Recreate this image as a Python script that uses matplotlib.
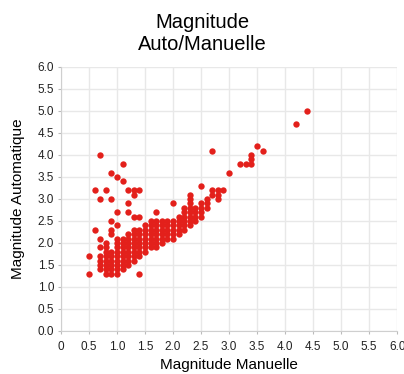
import numpy as np
import matplotlib.pyplot as plt

plt.rcParams['font.family'] = ['Liberation Sans', 'DejaVu Sans']

# dense block: each column of magnitudes (manual x) filled from low to high (auto y)
col_x = [0.7, 0.8, 0.9, 1.0, 1.1, 1.2, 1.3, 1.4, 1.5, 1.6, 1.7, 1.8, 1.9, 2.0, 2.1, 2.2, 2.3, 2.4, 2.5, 2.6]
col_low = [1.4, 1.3, 1.3, 1.3, 1.4, 1.5, 1.6, 1.7, 1.8, 1.9, 1.9, 2.0, 2.1, 2.1, 2.2, 2.3, 2.4, 2.5, 2.6, 2.8]
col_high = [1.7, 2.0, 1.8, 2.1, 2.1, 2.2, 2.3, 2.3, 2.4, 2.5, 2.5, 2.5, 2.5, 2.5, 2.6, 2.7, 2.8, 2.8, 2.9, 3.0]

# isolated points
out_x = [0.5, 0.5, 0.6, 0.7, 0.7, 0.9, 0.9, 0.9, 1.0, 1.0, 1.2, 1.3, 1.4, 1.7, 1.4,
         1.2, 0.7, 0.9, 1.3, 0.6, 0.8, 1.2, 1.3, 1.4, 1.1, 1.0, 0.9, 1.1, 0.7,
         2.0, 2.2, 2.3, 2.3, 2.3, 2.5, 2.7, 2.7, 2.8, 2.8, 2.8, 2.9, 3.0,
         3.2, 3.3, 3.4, 3.4, 3.4, 3.5, 3.6, 2.7, 4.2, 4.4]
out_y = [1.7, 1.3, 2.3, 2.1, 1.9, 2.2, 2.3, 2.5, 2.4, 2.7, 2.7, 2.6, 2.6, 2.7, 1.3,
         2.9, 3.0, 3.0, 3.1, 3.2, 3.2, 3.2, 3.2, 3.2, 3.4, 3.5, 3.6, 3.8, 4.0,
         2.9, 2.8, 2.9, 3.0, 3.1, 3.3, 3.1, 3.2, 3.0, 3.1, 3.2, 3.2, 3.6,
         3.8, 3.8, 3.8, 3.9, 4.0, 4.2, 4.1, 4.1, 4.7, 5.0]

xs, ys = [], []
for cx, lo, hi in zip(col_x, col_low, col_high):
    n = int(round((hi - lo) / 0.1)) + 1
    for k in range(n):
        xs.append(cx)
        ys.append(lo + 0.1 * k)
xs += out_x
ys += out_y

ticks = np.arange(0, 6.01, 0.5)
xlabels = ['0'] + ['%.1f' % t for t in ticks[1:]]
ylabels = ['%.1f' % t for t in ticks]

fig = plt.figure(figsize=(4.04, 3.74), dpi=100)
ax = fig.add_axes([0.151, 0.115, 0.832, 0.706])
ax.scatter(xs, ys, s=21, color='#e3201b', linewidths=0, zorder=3)

ax.set_xlim(0, 6)
ax.set_ylim(0, 6)
ax.set_xticks(ticks)
ax.set_yticks(ticks)
ax.set_xticklabels(xlabels)
ax.set_yticklabels(ylabels)
ax.grid(True, color='#e8e8e8', linewidth=1)
ax.set_axisbelow(True)
for s in ['top', 'right']:
    ax.spines[s].set_visible(False)
for s in ['left', 'bottom']:
    ax.spines[s].set_color('#cfcfcf')
ax.tick_params(length=2, color='#bbbbbb', labelsize=8.5, labelcolor='#222222')
ax.tick_params(axis='x', pad=5)
ax.tick_params(axis='y', pad=3)

ax.set_xlabel('Magnitude Manuelle', fontsize=11, labelpad=4)
ax.set_ylabel('Magnitude Automatique', fontsize=11, labelpad=9)
fig.text(0.5, 0.91, 'Magnitude\nAuto/Manuelle', ha='center', va='center',
         fontsize=14.5, linespacing=1.2)

fig.savefig('out.png', dpi=100)
